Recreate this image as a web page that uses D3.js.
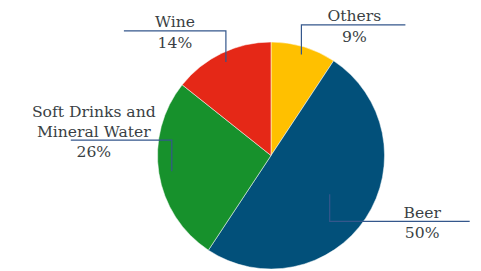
<!DOCTYPE html>
<html>
<head>
<meta charset="utf-8">
<script src="https://cdn.jsdelivr.net/npm/d3@7"></script>
<style>
  html, body { margin: 0; padding: 0; background: #fff; }
  svg { display: block; }
  text { font-family: "DejaVu Serif", serif; font-size: 15.6px; fill: #3a3f44; }
</style>
</head>
<body>
<svg id="chart" width="481" height="271"></svg>
<script>
// Data (clockwise from 12 o'clock)
const categories = ["Others", "Beer", "Soft Drinks and Mineral Water", "Wine"];
const labelLines = [["Others"], ["Beer"], ["Soft Drinks and", "Mineral Water"], ["Wine"]];
const values = [9.3, 50.0, 26.4, 14.3];
const colors = ["#FFC000", "#02507A", "#17912C", "#E52817"];

// Leader-line layout (style only)
const leaderRadius = [0.93, 0.62, 0.885, 0.915]; // fraction of radius where leader starts
const elbowDir = [-1, 1, -1, -1];               // vertical direction (-1 up, +1 down)
const elbowLen = [29.5, 27, 31, 31];
const hDir = [1, 1, -1, -1];                    // horizontal direction
const hLen = [104, 140, 101, 102];
const labelInset = [51, 47.5, 23, 51];          // label centre measured back from line end

const W = 481, H = 271;
const cx = 271, cy = 155.5, R = 113.5;
const svg = d3.select("#chart");
const g = svg.append("g").attr("transform", `translate(${cx},${cy})`);

const pie = d3.pie().sort(null).value(d => d.value);
const data = categories.map((c, i) => ({ name: c, value: values[i], i }));
const arcs = pie(data);
const total = d3.sum(values);
const arc = d3.arc().innerRadius(0).outerRadius(R);

g.selectAll("path.slice").data(arcs).enter().append("path")
  .attr("class", "slice")
  .attr("d", arc)
  .attr("fill", d => colors[d.data.i])
  .attr("stroke", "#ffffff")
  .attr("stroke-width", 0.5);

const fmt = d3.format(".0f");
arcs.forEach(a => {
  const i = a.data.i;
  const mid = (a.startAngle + a.endAngle) / 2;
  const r = R * leaderRadius[i];
  const x0 = Math.sin(mid) * r;
  const y0 = -Math.cos(mid) * r;
  const y1 = y0 + elbowDir[i] * elbowLen[i];
  const x2 = x0 + hDir[i] * hLen[i];
  g.append("path")
    .attr("d", `M${x0},${y0}L${x0},${y1}L${x2},${y1}`)
    .attr("fill", "none")
    .attr("stroke", "#34578C")
    .attr("stroke-width", 1.2);

  const lx = x2 - hDir[i] * labelInset[i];
  const lines = labelLines[i];
  lines.forEach((t, k) => {
    g.append("text")
      .attr("x", lx)
      .attr("y", y1 - 3.5 - (lines.length - 1 - k) * 20)
      .attr("text-anchor", "middle")
      .text(t);
  });
  g.append("text")
    .attr("x", lx)
    .attr("y", y1 + 17)
    .attr("text-anchor", "middle")
    .text(fmt(a.data.value / total * 100) + "%");
});
</script>
</body>
</html>
